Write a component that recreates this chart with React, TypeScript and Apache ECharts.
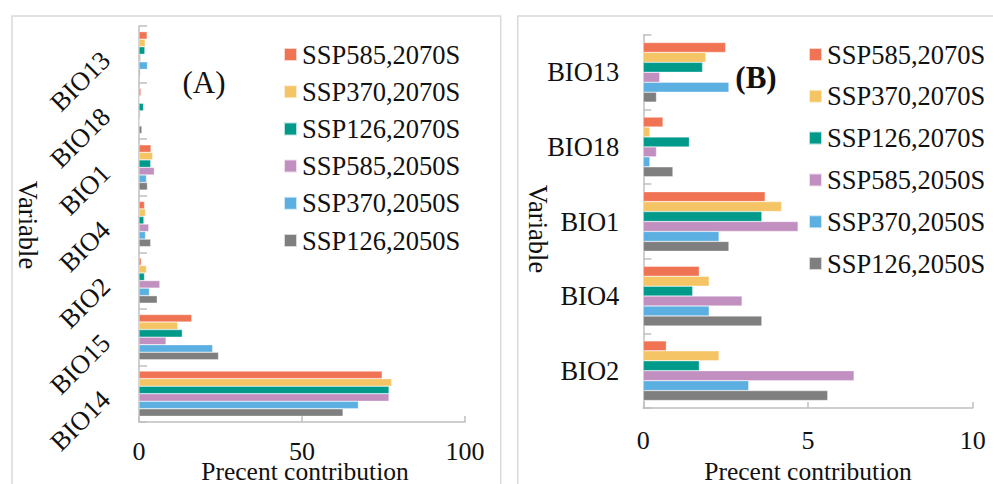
import React, { useEffect, useRef } from "react";
import * as echarts from "echarts";

const categoriesA = ["BIO14", "BIO15", "BIO2", "BIO4", "BIO1", "BIO18", "BIO13"];
const categoriesB = ["BIO2", "BIO4", "BIO1", "BIO18", "BIO13"];

const seriesNames = [
  "SSP585,2070S",
  "SSP370,2070S",
  "SSP126,2070S",
  "SSP585,2050S",
  "SSP370,2050S",
  "SSP126,2050S",
];

// values follow categoriesA order
const ssp585_2070 = [74.6, 16.2, 0.7, 1.7, 3.7, 0.6, 2.5];
const ssp370_2070 = [77.5, 11.9, 2.3, 2.0, 4.2, 0.2, 1.9];
const ssp126_2070 = [76.7, 13.3, 1.7, 1.5, 3.6, 1.4, 1.8];
const ssp585_2050 = [76.7, 8.3, 6.4, 3.0, 4.7, 0.4, 0.5];
const ssp370_2050 = [67.3, 22.6, 3.2, 2.0, 2.3, 0.2, 2.6];
const ssp126_2050 = [62.6, 24.4, 5.6, 3.6, 2.6, 0.9, 0.4];

const seriesValues = [ssp585_2070, ssp370_2070, ssp126_2070, ssp585_2050, ssp370_2050, ssp126_2050];
const seriesColors = ["#F07353", "#F5C465", "#009A8B", "#C18FC0", "#5BAFE1", "#7F7F7F"];

const xTicksA = { min: 0, max: 100, interval: 50 };
const xTicksB = { min: 0, max: 10, interval: 5 };

const xTitle = "Precent contribution";
const yTitle = "Variable";

const FONT = "'Liberation Serif', 'Times New Roman', serif";
const AXIS_COLOR = "#BFBFBF";
const FS = 26.5;

export default function App() {
  const ref = useRef<HTMLDivElement>(null);

  useEffect(() => {
    if (!ref.current) return;
    const chart = echarts.init(ref.current, undefined, { renderer: "svg" });

    const valueAxis = (gridIndex: number, ticks: any, margin: number) => ({
      type: "value",
      gridIndex,
      min: ticks.min,
      max: ticks.max,
      interval: ticks.interval,
      axisLine: { show: true, lineStyle: { color: AXIS_COLOR, width: 1.5 } },
      axisTick: { show: true, inside: true, length: 6, lineStyle: { color: AXIS_COLOR, width: 1.5 } },
      splitLine: { show: false },
      axisLabel: { fontFamily: FONT, fontSize: 26, lineHeight: 18, color: "#111", margin },
    });

    const catAxis = (gridIndex: number, data: string[], label: any) => ({
      type: "category",
      gridIndex,
      data,
      axisLine: { show: true, lineStyle: { color: AXIS_COLOR, width: 1.5 } },
      axisTick: { show: true, inside: true, length: 8, lineStyle: { color: AXIS_COLOR, width: 1.5 } },
      axisLabel: { fontFamily: FONT, fontSize: FS, color: "#111", ...label },
    });

    const series: any[] = [];
    // first series is drawn at the top of each category band
    [0, 1].forEach((g) => {
      seriesNames.forEach((name, i) => {
        series.push({
          type: "bar",
          name,
          xAxisIndex: g,
          yAxisIndex: g,
          data: g === 0 ? seriesValues[i] : seriesValues[i].slice(2),
          barGap: "0%",
          barCategoryGap: "20%",
          itemStyle: { color: seriesColors[i], borderColor: "rgba(255,255,255,0.7)", borderWidth: 0.5 },
        });
      });
    });

    const legendBase = {
      orient: "vertical",
      icon: "rect",
      itemWidth: 13,
      itemHeight: 13,
      data: seriesNames,
      textStyle: { fontFamily: FONT, fontSize: FS, color: "#111" },
      selectedMode: false,
    };

    const txt = (text: string, x: number, y: number, rot = 0, font = `${FS}px ${FONT}`) => ({
      type: "text",
      x,
      y,
      rotation: rot,
      style: { text, font, fill: "#111", textAlign: "center", textVerticalAlign: "middle" },
      silent: true,
    });

    chart.setOption({
      animation: false,
      backgroundColor: "#fff",
      grid: [
        { left: 139, top: 26, width: 326, height: 396 },
        { left: 643.3, top: 35, width: 329.4, height: 373 },
      ],
      xAxis: [valueAxis(0, xTicksA, 20), valueAxis(1, xTicksB, 23.5)],
      yAxis: [
        catAxis(0, categoriesA, { rotate: 45, margin: 32, padding: [22, 2, 0, 0] }),
        catAxis(1, categoriesB, { margin: 24 }),
      ],
      legend: [
        { ...legendBase, left: 278, top: 36, itemGap: 10.2 },
        { ...legendBase, left: 803, top: 36, itemGap: 14.8 },
      ],
      graphic: [
        { type: "rect", shape: { x: 12, y: 16, width: 488.7, height: 520 }, style: { fill: "none", stroke: "#D9D9D9", lineWidth: 1.5 }, silent: true },
        { type: "rect", shape: { x: 517.7, y: 16, width: 520, height: 520 }, style: { fill: "none", stroke: "#D9D9D9", lineWidth: 1.5 }, silent: true },
        txt("(A)", 204, 82, 0, `31px ${FONT}`),
        txt("(B)", 756, 77, 0, `bold 31px ${FONT}`),
        txt(xTitle, 305, 471, 0, `25.5px ${FONT}`),
        txt(xTitle, 808, 471, 0, `25.5px ${FONT}`),
        txt(yTitle, 28, 225, -Math.PI / 2),
        txt(yTitle, 537.5, 229, -Math.PI / 2),
      ],
      series,
    });

    return () => chart.dispose();
  }, []);

  return (
    <div
      ref={ref}
      style={{ position: "absolute", left: 0, top: 0, width: 993, height: 484, background: "#fff" }}
    />
  );
}
